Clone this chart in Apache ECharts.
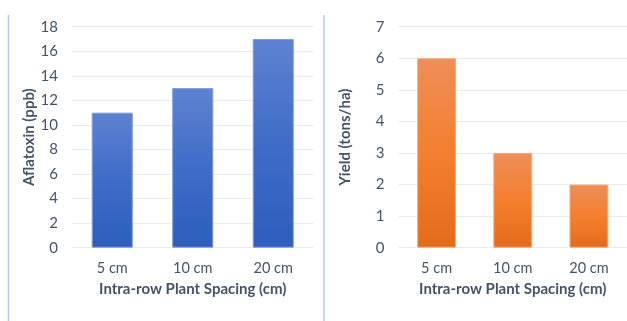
<!DOCTYPE html>
<html>
<head>
<meta charset="utf-8">
<script src="https://cdn.jsdelivr.net/npm/echarts@6/dist/echarts.min.js"></script>
<style>
  html, body { margin: 0; padding: 0; background: #fff; }
  #chart { width: 627px; height: 321px; }
</style>
</head>
<body>
<div id="chart"></div>
<script>
// Intra-row spacing treatments
const spacings = ['5 cm', '10 cm', '20 cm'];
// Aflatoxin contamination (ppb) per spacing
const aflatoxin = [11, 13, 17];
// Yield (tons/ha) per spacing
const yieldTons = [6, 3, 2];

const textColor = '#44546A';
const fontFamily = 'Lato, "Open Sans", sans-serif';

const blueFill = new echarts.graphic.LinearGradient(0, 0, 0, 1, [
  { offset: 0, color: '#5E82D0' },
  { offset: 0.5, color: '#3F6CC8' },
  { offset: 1, color: '#2F5DBD' }
]);
const orangeFill = new echarts.graphic.LinearGradient(0, 0, 0, 1, [
  { offset: 0, color: '#EE8E58' },
  { offset: 0.5, color: '#F47F2E' },
  { offset: 1, color: '#E26C1A' }
]);

function yAxis(gridIndex, max, name, nameGap) {
  return {
    gridIndex, type: 'value', min: 0, max, interval: max === 18 ? 2 : 1,
    name, nameLocation: 'middle', nameRotate: 90, nameGap,
    nameTextStyle: { color: textColor, fontFamily, fontSize: 15, fontWeight: 'bold' },
    axisLine: { show: false }, axisTick: { show: false },
    axisLabel: { color: textColor, fontFamily, fontSize: 15, margin: 14 },
    splitLine: { lineStyle: { color: '#EBEBEB', width: 1 } }
  };
}
function xAxis(gridIndex) {
  return {
    gridIndex, type: 'category', data: spacings,
    name: 'Intra-row Plant Spacing (cm)', nameLocation: 'middle', nameGap: 34,
    nameTextStyle: { color: textColor, fontFamily, fontSize: 15, fontWeight: 'bold' },
    axisLine: { show: false }, axisTick: { show: false },
    axisLabel: { color: textColor, fontFamily, fontSize: 14.5, margin: 13 }
  };
}

const chart = echarts.init(document.getElementById('chart'), null, { renderer: 'canvas' });
chart.setOption({
  backgroundColor: '#ffffff',
  animation: false,
  grid: [
    { left: 72, top: 26.7, width: 241.5, height: 221 },
    { left: 398.5, top: 26.7, width: 231, height: 221 }
  ],
  xAxis: [xAxis(0), xAxis(1)],
  yAxis: [yAxis(0, 18, 'Aflatoxin (ppb)', 32.5), yAxis(1, 7, 'Yield (tons/ha)', 46)],
  series: [
    {
      type: 'bar', xAxisIndex: 0, yAxisIndex: 0, data: aflatoxin, barWidth: '51%',
      itemStyle: { color: blueFill, borderColor: '#7D9DDC', borderWidth: 1 }
    },
    {
      type: 'bar', xAxisIndex: 1, yAxisIndex: 1, data: yieldTons, barWidth: '51%',
      itemStyle: { color: orangeFill, borderColor: '#F7AA78', borderWidth: 1 }
    }
  ],
  graphic: [
    { type: 'line', shape: { x1: 8.5, y1: 15, x2: 8.5, y2: 321 }, style: { stroke: '#B7C9E8', lineWidth: 1.5 } },
    { type: 'line', shape: { x1: 324, y1: 15, x2: 324, y2: 321 }, style: { stroke: '#B7C9E8', lineWidth: 1.5 } }
  ]
});
</script>
</body>
</html>
